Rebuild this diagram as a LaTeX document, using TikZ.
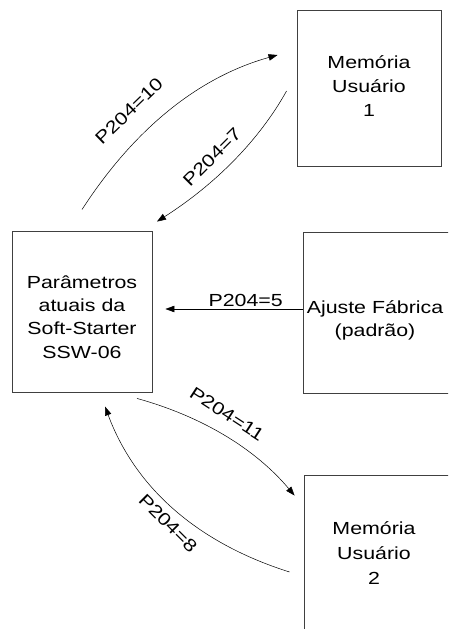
\documentclass[tikz,border=0pt]{standalone}
\usepackage{fontspec}
\setmainfont{Liberation Sans}[FakeStretch=1.22]
\usetikzlibrary{arrows.meta}

\begin{document}
\begin{tikzpicture}[x=1pt,y=-1pt,
  every node/.style={font=\fontsize{17.5}{24}\selectfont},
  caixa/.style={draw=black!75,line width=0.9pt,align=center,inner sep=0pt},
  texto/.style={align=center,inner sep=0pt},
  seta/.style={-{Triangle[length=9pt,width=6.5pt]},line width=0.5pt},
  rotulo/.style={inner sep=1pt}]
  \clip (0,0) rectangle (448,629);
  % blocos
  \node[caixa,minimum width=140pt,minimum height=161pt] (par) at (82,311.5) {};
  \node[texto,font=\fontsize{17.5}{23.3}\selectfont] (partxt) at ([yshift=-5.5pt]par.center) {Parâmetros\\atuais da\\Soft-Starter\\SSW-06};
  \node[caixa,minimum width=144pt,minimum height=156pt] (mem1) at (369,88) {};
  \node[texto] (mem1txt) at ([yshift=2pt]mem1.center) {Memória\\Usuário\\1};
  \node[caixa,minimum width=150pt,minimum height=161pt] (aju) at (378,312.5) {};
  \node[texto,font=\fontsize{17.5}{22.5}\selectfont] (ajutxt) at ([xshift=-3pt,yshift=-8pt]aju.center) {Ajuste Fábrica\\(padrão)};
  \node[caixa,minimum width=146pt,minimum height=156pt] (mem2) at (377,553) {};
  \node[texto,font=\fontsize{17.5}{25}\selectfont] (mem2txt) at ([xshift=-3pt]mem2.center) {Memória\\Usuário\\2};
  % setas
  \draw[seta] ([yshift=21pt]par.north) .. controls (134.3,128.7) and (198.7,77) .. ([xshift=-19pt,yshift=33pt]mem1.west);
  \draw[seta] ([xshift=-10pt,yshift=-3pt]mem1.west) .. controls (259,140.3) and (215.7,184) .. ([xshift=75pt,yshift=9pt]par.north);
  \draw[seta] ([yshift=3.5pt]aju.west) -- ([xshift=13pt,yshift=2.5pt]par.east) node[rotulo,pos=0.415,above=1pt] (l5) {P204=5};
  \draw[seta] ([xshift=55pt,yshift=-6pt]par.south) .. controls (203,416.7) and (255.7,449.3) .. ([xshift=-9pt,yshift=-21pt]mem2.north west);
  \draw[seta] ([xshift=-14pt,yshift=-19pt]mem2.west) .. controls (196.7,542.7) and (135,487.3) .. ([xshift=23pt,yshift=-14pt]par.south);
  % rotulos
  \node[rotulo,rotate=44] (l10) at (129,111) {P204=10};
  \node[rotulo,rotate=45] (l7) at (212,157) {P204=7};
  \node[rotulo,rotate=-33] (l11) at (227,414) {P204=11};
  \node[rotulo,rotate=-45] (l8) at (168,523) {P204=8};
\end{tikzpicture}
\end{document}
